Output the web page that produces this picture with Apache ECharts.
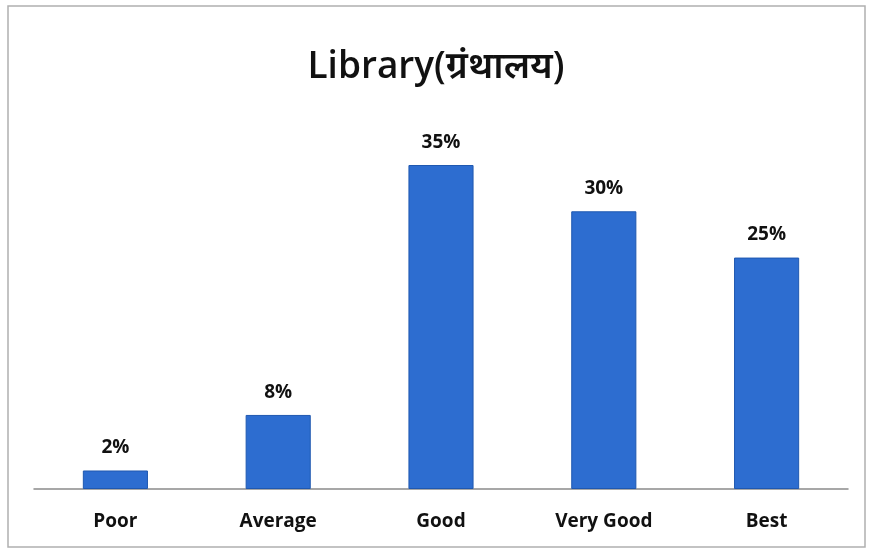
<!DOCTYPE html>
<html>
<head>
<meta charset="utf-8">
<script src="https://cdn.jsdelivr.net/npm/echarts@6/dist/echarts.min.js"></script>
<style>
  html, body { margin: 0; padding: 0; background: #fff; }
  #chart { width: 872px; height: 553px; }
</style>
</head>
<body>
<div id="chart"></div>
<script>
var categories = ['Poor', 'Average', 'Good', 'Very Good', 'Best'];
var percentages = [2, 8, 35, 30, 25];

var chartDom = document.getElementById('chart');
var myChart = echarts.init(chartDom);

var option = {
    backgroundColor: '#ffffff',
    title: {
        text: 'Library(ग्रंथालय)',
        left: 'center',
        top: 44,
        textStyle: {
            fontFamily: 'Open Sans, Noto Sans, sans-serif',
            fontSize: 37,
            fontWeight: 600,
            color: '#111'
        }
    },
    graphic: [{
        type: 'rect',
        shape: { x: 8, y: 6, width: 857, height: 541 },
        style: { fill: 'none', stroke: '#b0b0b0', lineWidth: 1.5 },
        silent: true
    }],
    grid: { left: 34, right: 24, top: 165, bottom: 64 },
    xAxis: {
        type: 'category',
        data: categories,
        axisLine: { lineStyle: { color: '#8a8a8a', width: 1.5 } },
        axisTick: { show: false },
        axisLabel: {
            margin: 23,
            fontFamily: 'Open Sans, sans-serif',
            fontSize: 19,
            fontWeight: 'bold',
            color: '#111'
        }
    },
    yAxis: {
        type: 'value',
        min: 0,
        max: 35,
        show: false,
        splitLine: { show: false }
    },
    series: [{
        type: 'bar',
        data: percentages,
        barWidth: '40%',
        itemStyle: { color: '#2d6dd0', borderColor: '#1f58b0', borderWidth: 1 },
        label: {
            show: true,
            position: 'top',
            distance: 13,
            formatter: '{c}%',
            fontFamily: 'Open Sans, sans-serif',
            fontSize: 19,
            fontWeight: 'bold',
            color: '#111'
        }
    }]
};

myChart.setOption(option);
</script>
</body>
</html>
